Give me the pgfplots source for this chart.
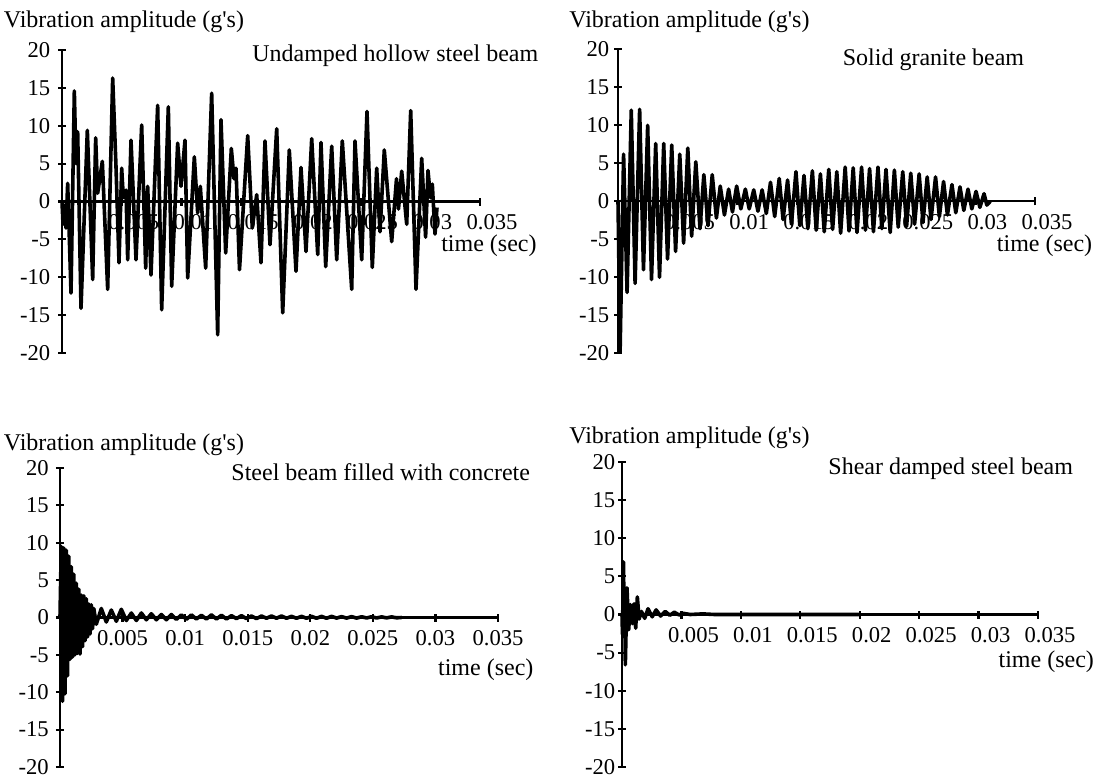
\documentclass[border=0pt]{standalone}
\usepackage{fontspec}
\setmainfont{Liberation Serif}
\usepackage{pgfplots}
\pgfplotsset{compat=1.18}

\pgfplotsset{
  beam/.style={
    scale only axis,
    anchor=south west,
    xmin=0, xmax=0.035, ymin=-20, ymax=20,
    axis x line=middle, axis y line=left,
    axis line style={-, line width=1.1pt},
    tick style={black, line width=1.1pt},
    tick align=center, major tick length=4pt,
    scaled x ticks=false, scaled y ticks=false,
    xtick={0.005,0.01,0.015,0.02,0.025,0.03,0.035},
    xticklabels={0.005,0.01,0.015,0.02,0.025,0.03,0.035},
    ytick={-20,-15,-10,-5,0,5,10,15,20},
    yticklabels={-20,-15,-10,-5,0,5,10,15,20},
    tick label style={font=\fontsize{11.3}{13}\selectfont},
    xticklabel style={anchor=base, yshift=-12pt},
    yticklabel style={anchor=east, inner sep=0pt},
    clip=false,
  },
  signal/.style={black, line width=1.8pt, line join=round, mark=none},
}
\newcommand{\lbl}{\fontsize{12}{14}\selectfont}

\begin{document}
\begin{tikzpicture}
\useasboundingbox (0,0) rectangle (548.5pt,389pt);

% ---------------- Undamped hollow steel beam ----------------
\begin{axis}[beam, at={(31pt,212.5pt)}, width=209pt, height=151.5pt,
  xticklabel style={xshift=6pt}, yticklabel style={xshift=-3.7pt}]
\addplot[signal] table {
t v
0.000000 0
0.000084 -3.0
0.000209 -0.5
0.000335 -3.5
0.000475 2.4
0.000754 -12.1
0.001032 14.6
0.001172 5.0
0.001312 9.2
0.001591 -14.1
0.002121 9.4
0.002568 -10.3
0.002819 8.4
0.002987 1.1
0.003377 5.3
0.003824 -11.6
0.004243 16.3
0.004521 4.6
0.004773 -8.1
0.004996 4.4
0.005135 0.5
0.005359 1.5
0.005499 -7.7
0.005778 8.1
0.006196 -7.7
0.006671 10.1
0.007006 -8.8
0.007173 2.0
0.007452 -9.7
0.008010 12.7
0.008345 -14.3
0.008903 12.5
0.009183 -11.2
0.009685 7.7
0.009964 2.0
0.010299 8.1
0.010522 -10.1
0.011080 5.9
0.011360 -1.5
0.011582 2.0
0.012030 -8.8
0.012532 14.3
0.013034 -17.6
0.013313 10.8
0.013704 -6.8
0.014178 7.0
0.014402 3.0
0.014569 4.4
0.014862 -9.0
0.015549 8.7
0.015934 -3.5
0.016302 0.9
0.016662 -8.1
0.016997 8.0
0.017416 -5.7
0.017977 9.6
0.018479 -14.7
0.019032 6.8
0.019593 -9.2
0.020011 4.5
0.020430 -6.6
0.020908 8.3
0.021410 -7.0
0.021686 7.8
0.022080 -8.6
0.022582 7.3
0.023001 -7.7
0.023470 8.0
0.024257 -11.6
0.024533 8.0
0.025094 -7.7
0.025538 11.9
0.025982 -8.7
0.026350 4.4
0.026626 -4.0
0.026986 6.8
0.027606 -5.3
0.028008 3.0
0.028175 -1.0
0.028443 4.0
0.028862 -3.0
0.029197 12.0
0.029641 -11.6
0.030118 5.7
0.030445 -4.7
0.030645 4.1
0.030855 0.5
0.031006 2.3
0.031232 -4.3
0.031399 -0.8
};
\end{axis}

% ---------------- Solid granite beam ----------------
\begin{axis}[beam, at={(309pt,212.35pt)}, width=208.5pt, height=152pt,
  xticklabel style={xshift=6pt}, yticklabel style={xshift=-2.2pt}]
\addplot[signal] table {
t v
0.000000 0
0.000176 -19.8
0.000469 6.2
0.000762 -12.0
0.001113 12.0
0.001435 -10.8
0.001816 12.1
0.002138 -9.0
0.002490 10.0
0.002812 -10.3
0.003163 7.6
0.003485 -10.0
0.003837 7.6
0.004159 -7.6
0.004510 7.4
0.004833 -6.6
0.005184 6.2
0.005506 -5.5
0.005858 7.0
0.006180 -4.6
0.006531 5.2
0.006883 -3.6
0.007205 3.5
0.007556 -3.2
0.007908 3.5
0.008259 -2.2
0.008582 2.0
0.008933 -1.8
0.009285 1.6
0.009607 -1.4
0.009958 2.0
0.010310 -1.0
0.010690 1.6
0.011013 -1.0
0.011393 1.5
0.011745 -1.3
0.012096 1.5
0.012448 -1.6
0.012799 2.5
0.013151 -2.0
0.013531 3.0
0.013854 -2.4
0.014234 2.8
0.014557 -3.0
0.014937 3.9
0.015259 -3.2
0.015611 3.4
0.015933 -3.6
0.016314 4.0
0.016636 -3.8
0.016987 3.6
0.017310 -4.0
0.017690 4.2
0.018013 -3.7
0.018364 3.9
0.018686 -4.2
0.019067 4.5
0.019389 -3.9
0.019741 4.4
0.020063 -4.1
0.020444 4.5
0.020766 -3.8
0.021117 4.3
0.021439 -4.0
0.021820 4.5
0.022142 -3.6
0.022494 4.2
0.022845 -4.1
0.023197 4.1
0.023519 -3.4
0.023900 3.9
0.024222 -3.3
0.024573 3.7
0.024895 -3.0
0.025276 3.6
0.025598 -2.8
0.025950 3.2
0.026272 -2.4
0.026653 3.2
0.026975 -2.0
0.027326 2.6
0.027649 -1.8
0.028029 2.2
0.028351 -1.5
0.028703 1.9
0.029025 -1.2
0.029377 1.6
0.029699 -1.0
0.030050 1.3
0.030373 -0.8
0.030724 1.0
0.030958 -0.5
0.031251 0
};
\end{axis}

% ---------------- Steel beam filled with concrete ----------------
\begin{axis}[beam, at={(30pt,5.5pt)}, width=219pt, height=149.5pt,
  yticklabel style={xshift=-3.4pt}]
\addplot[signal] table {
t v
0.0000 0
0.0001 9.5
0.0002 -11.2
0.0003 9.3
0.0004 -10.2
0.0005 9.0
0.0006 -7.8
0.0007 8.2
0.0008 -5.6
0.0009 6.8
0.0010 -5.3
0.0011 5.8
0.0012 -5.0
0.0013 4.6
0.0014 -4.8
0.0015 3.8
0.0016 -4.9
0.0017 3.0
0.0018 -3.9
0.0019 2.9
0.0020 -3.1
0.0021 2.5
0.0022 -2.6
0.0023 1.8
0.0024 -2.2
0.0025 1.7
0.0026 -1.5
0.0027 1.2
0.0029 -0.9
0.0033 1.2
0.0037 -0.6
0.0041 1.0
0.0045 -0.5
0.0049 1.1
0.0053 -0.4
0.0057 0.6
0.0061 -0.4
0.0065 0.6
0.0069 -0.3
0.0073 0.5
0.0077 -0.3
0.0081 0.4
0.0085 -0.3
0.0089 0.4
0.0093 -0.25
0.0097 0.35
0.0101 -0.25
0.0105 0.35
0.0109 -0.2
0.0113 0.3
0.0117 -0.2
0.0121 0.35
0.0125 -0.2
0.0129 0.3
0.0133 -0.2
0.0137 0.25
0.0141 -0.15
0.0145 0.25
0.0149 -0.15
0.0153 0.2
0.0157 -0.15
0.0161 0.2
0.0165 -0.1
0.0169 0.2
0.0173 -0.1
0.0177 0.2
0.0181 -0.1
0.0185 0.15
0.0189 -0.1
0.0193 0.15
0.0197 -0.1
0.0201 0.15
0.0205 -0.1
0.0209 0.15
0.0213 -0.1
0.0217 0.15
0.0221 -0.08
0.0225 0.12
0.0229 -0.08
0.0233 0.12
0.0237 -0.08
0.0241 0.1
0.0245 -0.06
0.0249 0.1
0.0253 -0.06
0.0257 0.08
0.0261 -0.05
0.0265 0.08
0.0269 -0.04
0.0273 0
};
\end{axis}

% ---------------- Shear damped steel beam ----------------
\begin{axis}[beam, at={(311pt,5.5pt)}, width=208pt, height=152.5pt,
  xticklabel style={xshift=6pt}, yticklabel style={xshift=-1.2pt}]
\addplot[signal] table {
t v
0.00000 0
0.00004 -2.6
0.00007 1.0
0.00010 -2.2
0.000125 6.9
0.00019 -3.0
0.00023 2.0
0.00028 -6.6
0.00042 3.5
0.00056 -2.0
0.00070 1.3
0.00087 -1.2
0.00101 1.4
0.00115 -1.8
0.00129 2.3
0.00144 -0.6
0.00163 0.4
0.00191 -0.5
0.00219 0.75
0.00254 -0.3
0.00287 0.6
0.00325 -0.2
0.00364 0.4
0.00402 -0.1
0.00440 0.3
0.00479 -0.05
0.00517 0.15
0.00574 0
0.00680 0.08
0.00780 0
0.02000 0
};
\end{axis}

% ---------------- labels ----------------
\begin{scope}[every node/.style={inner sep=0pt, font=\lbl}]
\node[anchor=base west] at (1.75pt,375pt) {Vibration amplitude (g\textquotesingle s)};
\node[anchor=base east] at (269.3pt,358pt) {Undamped hollow steel beam};
\node[anchor=base east] at (268.5pt,263.5pt) {time (sec)};

\node[anchor=base west] at (284.5pt,375pt) {Vibration amplitude (g\textquotesingle s)};
\node[anchor=base east] at (512.25pt,356pt) {Solid granite beam};
\node[anchor=base east] at (546.3pt,263pt) {time (sec)};

\node[anchor=base west] at (1.75pt,164pt) {Vibration amplitude (g\textquotesingle s)};
\node[anchor=base east] at (265.2pt,149pt) {Steel beam filled with concrete};
\node[anchor=base east] at (266.9pt,51.5pt) {time (sec)};

\node[anchor=base west] at (284.5pt,167.5pt) {Vibration amplitude (g\textquotesingle s)};
\node[anchor=base east] at (536.7pt,152pt) {Shear damped steel beam};
\node[anchor=base east] at (547.15pt,55.5pt) {time (sec)};
\end{scope}
\end{tikzpicture}
\end{document}
